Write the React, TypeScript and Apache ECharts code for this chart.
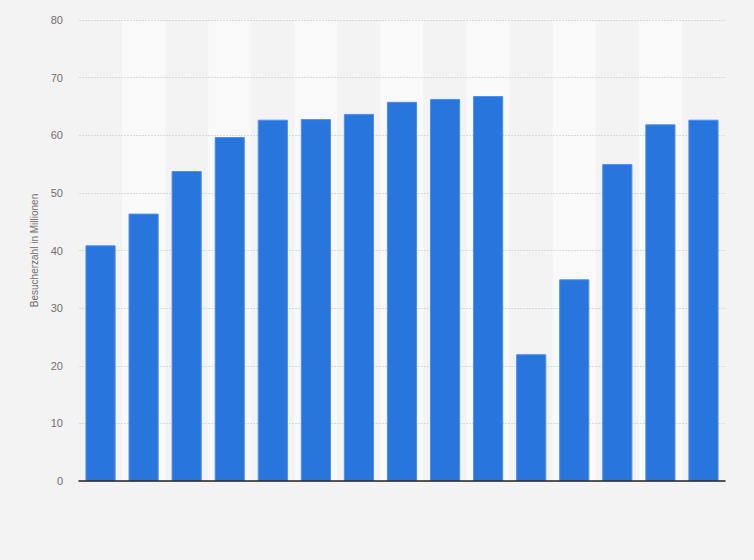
import { useEffect, useRef } from 'react';
import * as echarts from 'echarts';

const years = [
  '2010', '2011', '2012', '2013', '2014', '2015', '2016', '2017',
  '2018', '2019', '2020', '2021', '2022', '2023', '2024',
];
const visitors = [
  40.9, 46.4, 53.8, 59.7, 62.7, 62.8, 63.7, 65.8, 66.3, 66.8, 22.0, 35.0, 55.0, 61.9, 62.7,
];
const yTicks = [0, 10, 20, 30, 40, 50, 60, 70, 80];

const App: React.FC = () => {
  const chartRef = useRef<HTMLDivElement>(null);

  useEffect(() => {
    if (!chartRef.current) return;
    const chart = echarts.init(chartRef.current, null, { renderer: 'svg' });

    const option = {
      animation: false,
      backgroundColor: '#f3f3f3',
      textStyle: { fontFamily: 'Liberation Sans, Arial, sans-serif' },
      grid: { left: 79, right: 29, top: 20, bottom: 79 },
      xAxis: [
        {
          // bands only
          type: 'category',
          data: years,
          z: 0,
          axisLabel: { show: false },
          axisTick: { show: false },
          axisLine: { show: false },
          splitArea: { show: true, areaStyle: { color: ['#f3f3f3', '#f9f9f9'] } },
        },
        {
          // solid base line drawn above the dotted grid lines
          type: 'category',
          data: years,
          position: 'bottom',
          z: 3,
          axisLabel: { show: false },
          axisTick: { show: false },
          axisLine: { show: true, lineStyle: { color: '#222', width: 1.5 } },
        },
      ],
      yAxis: {
        type: 'value',
        z: 1,
        min: yTicks[0],
        max: yTicks[yTicks.length - 1],
        interval: 10,
        name: 'Besucherzahl in Millionen',
        nameLocation: 'middle',
        nameGap: 39,
        nameTextStyle: { color: '#707070', fontSize: 10 },
        axisLine: { show: false },
        axisTick: { show: false },
        axisLabel: { color: '#707070', fontSize: 11, margin: 16 },
        splitLine: { lineStyle: { color: '#d8d8d8', type: [2, 1], width: 1 } },
      },
      series: [
        {
          type: 'bar',
          data: visitors,
          xAxisIndex: 0,
          barWidth: '70%',
          z: 2,
          itemStyle: { color: '#2876dd', borderColor: '#4d8fe8', borderWidth: 1 },
        },
      ],
    };

    chart.setOption(option);
    return () => {
      chart.dispose();
    };
  }, []);

  return (
    <div
      ref={chartRef}
      style={{ position: 'absolute', left: 0, top: 0, width: 754, height: 560 }}
    />
  );
};

export default App;
